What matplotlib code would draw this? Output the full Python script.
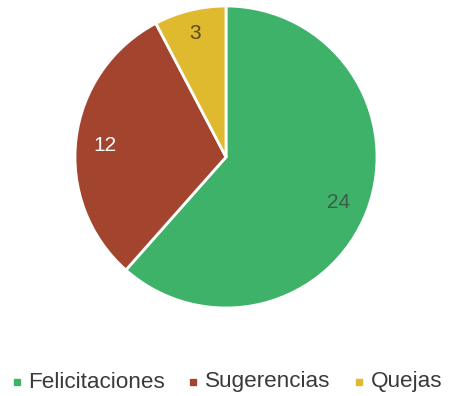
import matplotlib
matplotlib.use("Agg")

import matplotlib.pyplot as plt
import numpy as np
from matplotlib.lines import Line2D

categories = ["Felicitaciones", "Sugerencias", "Quejas"]
counts = [24, 12, 3]
colors = ["#3fb26a", "#a3442e", "#dfb92e"]
label_colors = ["#3a5c48", "#ffffff", "#5e4a1c"]

FONT = ["Liberation Sans", "DejaVu Sans"]
W, H = 450, 396

fig = plt.figure(figsize=(W / 100, H / 100), dpi=100)
fig.patch.set_facecolor("white")

ax = fig.add_axes([75 / W, 88 / H, 302 / W, 302 / H])
wedges, _ = ax.pie(
    counts,
    colors=colors,
    startangle=90,
    counterclock=False,
    radius=1.0,
    wedgeprops={"edgecolor": "white", "linewidth": 2},
)
ax.set_xlim(-1.0, 1.0)
ax.set_ylim(-1.0, 1.0)
ax.set_aspect("equal")
ax.axis("off")

# value labels inside each slice, along its mid angle
label_radius = [0.8, 0.805, 0.865]
total = sum(counts)
start = 90.0
for value, tcolor, r in zip(counts, label_colors, label_radius):
    sweep = 360.0 * value / total
    mid = np.deg2rad(start - sweep / 2)
    ax.text(r * np.cos(mid), r * np.sin(mid) - 0.02, str(value), ha="center", va="center",
            fontsize=15, color=tcolor, family=FONT)
    start -= sweep

# legend row laid out by hand in pixel units
leg = fig.add_axes([0, 0, 1, 1], zorder=-1)
leg.set_xlim(0, W)
leg.set_ylim(H, 0)
leg.axis("off")
renderer = fig.canvas.get_renderer()
x = 16.5
y = 382
for name, c in zip(categories, colors):
    leg.add_line(Line2D([x], [y], marker="s", markersize=4.2, linestyle="none",
                        markerfacecolor=c, markeredgecolor=c))
    t = leg.text(x + 12, y, name, ha="left", va="center", fontsize=16.2,
                 color="#3a3a3a", family=FONT)
    bb = t.get_window_extent(renderer)
    x = bb.x1 + 28

fig.savefig("out.png", dpi=100)
